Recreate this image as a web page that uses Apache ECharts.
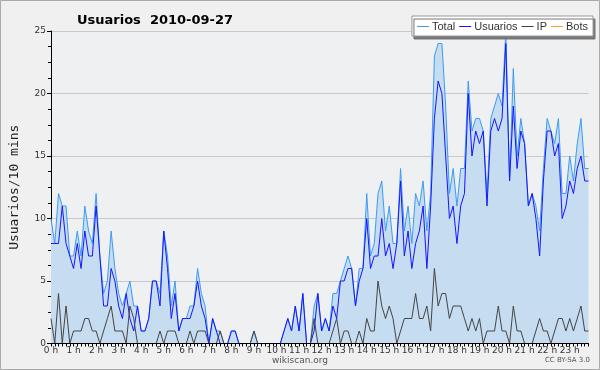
<!DOCTYPE html>
<html><head><meta charset="utf-8">
<script src="https://cdn.jsdelivr.net/npm/echarts@6/dist/echarts.min.js"></script>
<style>html,body{margin:0;padding:0;background:#f0f0f0}#c{width:600px;height:370px}</style>
</head><body><div id="c"></div><script>
const hourLabels = ['0 h','1 h','2 h','3 h','4 h','5 h','6 h','7 h','8 h','9 h','10 h','11 h','12 h','13 h','14 h','15 h','16 h','17 h','18 h','19 h','20 h','21 h','22 h','23 h'];
const yTicks = [0, 5, 10, 15, 20, 25];
const total = [10,8,12,11,11,7,7,9,7,11,9,8,12,7,4,5,9,6,4,3,4,5,3,3,
  1,1,2,5,5,4,9,7,3,5,1,2,2,3,3,6,4,3,0,2,1,1,0,0,
  1,1,0,0,0,0,1,0,0,0,0,0,0,0,1,2,1,3,1,4,0,0,3,4,
  1,2,1,4,4,5,6,7,6,3,6,6,12,7,8,12,13,9,11,8,8,14,9,11,
  8,12,11,13,9,12,23,24,24,19,12,14,11,14,14,21,17,18,18,17,12,18,19,20,
  19,25,13,22,15,18,16,11,12,11,9,14,18,17,16,18,12,12,15,13,16,18,14,14];
const usuarios = [8,8,8,11,8,7,6,8,6,9,7,7,11,7,3,3,6,5,3,2,4,2,1,3,
  1,1,2,5,5,3,9,6,2,4,1,2,2,2,3,5,3,2,0,2,1,0,0,0,
  1,1,0,0,0,0,0,0,0,0,0,0,0,0,1,2,1,3,1,4,0,0,1,4,
  1,2,1,3,2,5,5,6,6,3,5,6,10,6,7,7,10,7,8,6,8,13,7,9,
  6,8,9,11,6,11,18,21,20,15,10,11,8,11,12,20,15,17,16,17,11,17,18,17,
  18,24,13,19,14,17,16,11,12,10,7,13,17,17,15,16,10,11,13,12,14,15,13,13];
const ip = [2,0,4,0,3,0,1,1,1,2,2,1,1,0,1,2,3,1,1,1,0,3,2,0,
  0,0,0,0,0,1,0,1,1,1,0,0,0,1,0,1,1,1,0,0,0,1,0,0,
  0,0,0,0,0,0,1,0,0,0,0,0,0,0,0,0,0,0,0,0,0,0,2,0,
  0,0,0,1,2,0,1,1,0,0,1,0,2,1,1,5,3,2,3,2,0,1,2,2,
  2,4,2,2,3,1,6,3,4,4,2,3,3,3,2,1,2,1,2,0,1,1,1,3,
  1,1,0,3,1,1,0,0,0,1,2,1,1,0,1,2,2,1,2,1,2,3,1,1];
const bots = new Array(144).fill(0);
const categories = [];
hourLabels.forEach(h => { for (let k = 0; k < 6; k++) categories.push(h.replace(' h','') + ':' + k + '0'); });

const colTotal = '#3d9bf0', colUsu = '#1515ff', colIp = '#444444', colBots = '#ffa020';
const chart = echarts.init(document.getElementById('c'), null, {renderer: 'canvas'});
const axisFont = {fontFamily: 'DejaVu Sans', fontSize: 9, color: '#333'};
chart.setOption({
  backgroundColor: '#f0f0f0',
  animation: false,
  title: {text: 'Usuarios  2010-09-27', left: 72, top: 9,
    textStyle: {fontFamily: 'DejaVu Sans', fontWeight: 'bold', fontSize: 13, color: '#000'}},
  legend: {
    data: [
      {name: 'Total', itemStyle: {color: colTotal}},
      {name: 'Usuarios', itemStyle: {color: colUsu}},
      {name: 'IP', itemStyle: {color: colIp}},
      {name: 'Bots', itemStyle: {color: colBots}}
    ],
    icon: 'rect',
    right: 7, top: 16,
    backgroundColor: '#fff', borderColor: '#999', borderWidth: 1,
    shadowColor: '#777', shadowOffsetX: 2, shadowOffsetY: 3, shadowBlur: 0,
    padding: [5, 5, 4, 5], itemGap: 4, itemWidth: 12, itemHeight: 1,
    textStyle: {fontFamily: 'Liberation Sans', fontSize: 11, color: '#333', padding: [0,0,0,-2]}
  },
  grid: {left: 46, right: 11.5, top: 31, bottom: 26.5, show: true, backgroundColor: '#eef0f2', borderWidth: 0},
  xAxis: {
    type: 'category', data: categories, boundaryGap: false,
    axisLine: {lineStyle: {color: '#000', width: 1}}, z: 10,
    axisTick: {interval: 0, length: 3, lineStyle: {color: '#000'}},
    axisLabel: Object.assign({interval: (i) => i % 6 === 0, formatter: (v, i) => hourLabels[i / 6], margin: 3}, axisFont),
    splitLine: {show: false}
  },
  yAxis: {
    type: 'value', min: yTicks[0], max: yTicks[yTicks.length - 1], interval: 5,
    name: 'Usuarios/10 mins', nameLocation: 'middle', nameGap: 30, nameRotate: 90,
    nameTextStyle: {fontFamily: 'DejaVu Sans Mono', fontSize: 13, color: '#222'},
    axisLine: {show: true, lineStyle: {color: '#000'}},
    axisTick: {show: true, length: 4, lineStyle: {color: '#000'}},
    minorTick: {show: true, splitNumber: 4, length: 3, lineStyle: {color: '#000'}},
    axisLabel: Object.assign({margin: 5}, axisFont),
    splitLine: {lineStyle: {color: '#c8c8c8', width: 1}}
  },
  series: [
    {name: 'Total', type: 'line', data: total, showSymbol: false, symbol: 'none',
      itemStyle: {color: colTotal}, lineStyle: {color: colTotal, width: 1},
      areaStyle: {color: '#c6dcf0', opacity: 1}, z: 2},
    {name: 'Usuarios', type: 'line', data: usuarios, showSymbol: false, symbol: 'none',
      itemStyle: {color: colUsu}, lineStyle: {color: colUsu, width: 1}, z: 3},
    {name: 'IP', type: 'line', data: ip, showSymbol: false, symbol: 'none',
      itemStyle: {color: colIp}, lineStyle: {color: colIp, width: 1}, z: 4},
    {name: 'Bots', type: 'line', data: bots, showSymbol: false, symbol: 'none',
      itemStyle: {color: colBots}, lineStyle: {color: colBots, width: 1}, z: 1}
  ],
  graphic: [
    {type: 'text', left: 'center', top: 356, style: {text: 'wikiscan.org', fontFamily: 'DejaVu Sans', fontSize: 9, fill: '#555'}},
    {type: 'text', right: 10, top: 357, style: {text: 'CC BY-SA 3.0', fontFamily: 'DejaVu Sans', fontSize: 7, fill: '#555'}},
    {type: 'rect', shape: {x: 0.5, y: 0.5, width: 599, height: 369}, style: {fill: 'none', stroke: '#aaa', lineWidth: 1}, silent: true}
  ]
});
</script></body></html>
